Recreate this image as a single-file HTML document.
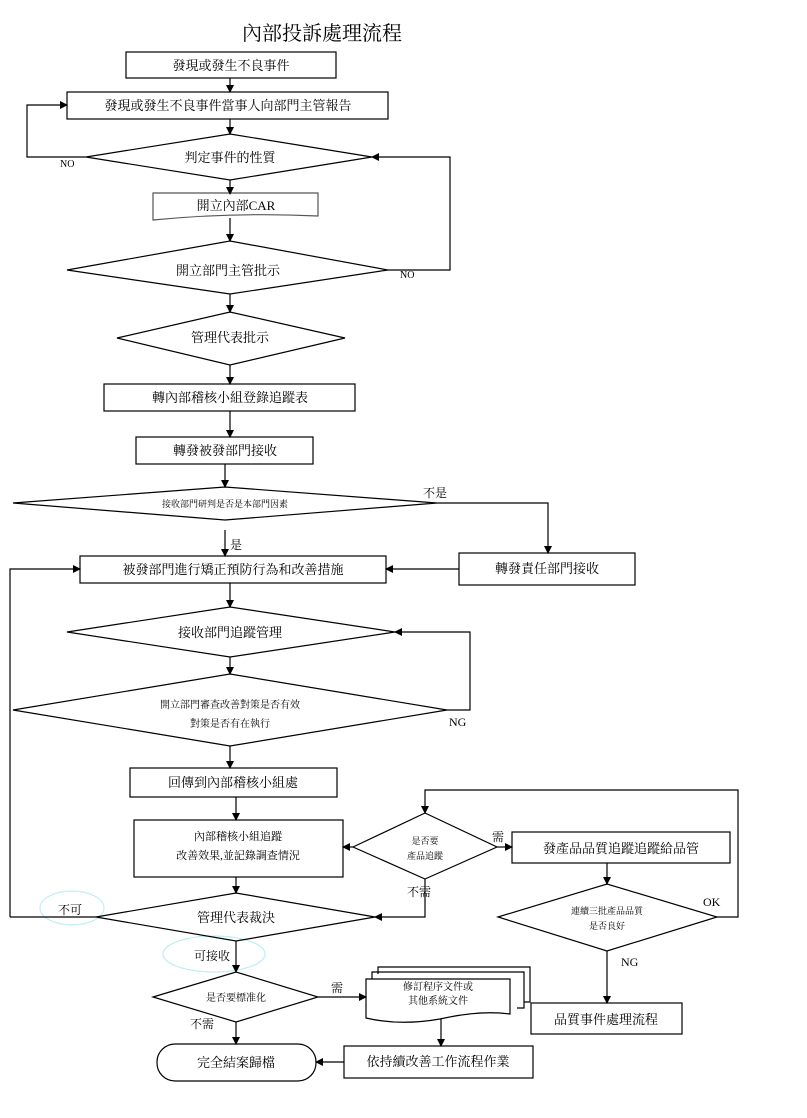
<!DOCTYPE html>
<html><head><meta charset="utf-8"><style>
body{margin:0;background:#fff}
svg text{font-family:"Liberation Serif","Noto Serif CJK SC","Noto Sans CJK TC",serif;fill:#000}
</style></head><body>
<svg width="807" height="1113" viewBox="0 0 807 1113" xmlns="http://www.w3.org/2000/svg">
<defs><marker id="a" markerWidth="8" markerHeight="8" refX="7" refY="4" orient="auto" markerUnits="userSpaceOnUse"><path d="M0,0L8,4L0,8z" fill="#000"/></marker></defs>
<g fill="none" stroke="#000" stroke-width="1.2">
<ellipse cx="72" cy="908" rx="32" ry="17" stroke="#bfeef5"/>
<ellipse cx="214" cy="954" rx="51" ry="18" stroke="#bfeef5"/>
<rect x="126" y="52" width="210" height="26"/>
<rect x="67" y="92" width="321" height="27"/>
<polygon points="86,157 230,134 372,157 230,180"/>
<path d="M153,193H318V216Q235,212 153,220Z" stroke="#555"/>
<polygon points="67,270 230,241 388,270 230,294"/>
<polygon points="117,338 230,312 345,338 230,365"/>
<rect x="104" y="384" width="251" height="27"/>
<rect x="136" y="437" width="177" height="27"/>
<polygon points="13,503 225,487 437,503 225,520"/>
<rect x="459" y="553" width="176" height="32"/>
<rect x="80" y="556" width="306" height="27"/>
<polygon points="67,632 230,607 395,632 230,657"/>
<polygon points="13,710 230,674 447,710 230,746"/>
<rect x="130" y="768" width="207" height="29"/>
<rect x="134" y="820" width="209" height="57"/>
<polygon points="353,847 425,813 497,847 425,879"/>
<rect x="512" y="832" width="218" height="31"/>
<polygon points="498,917 607,884 717,917 607,951"/>
<rect x="531" y="1003" width="151" height="31"/>
<polygon points="96,917 236,893 375,917 236,941"/>
<polygon points="153,997 236,972 318,997 236,1022"/>
<path d="M378,974V967H530V1002H524"/>
<path d="M372,979V972H524V1008H517"/>
<path d="M366,979H510V1014Q480,1010 440,1019Q400,1026 366,1018Z" fill="#fff"/>
<rect x="157" y="1044" width="159" height="37" rx="18"/>
<rect x="344" y="1046" width="189" height="32"/>
<g marker-end="url(#a)">
<path d="M230,78V92"/>
<path d="M230,119V134"/>
<path d="M86,157H27V105H67"/>
<path d="M230,180V194"/>
<path d="M230,218V241"/>
<path d="M388,270H450V157H372"/>
<path d="M230,294V312"/>
<path d="M230,365V384"/>
<path d="M230,411V437"/>
<path d="M225,464V487"/>
<path d="M437,503H548V553"/>
<path d="M225,530V556"/>
<path d="M459,569H386"/>
<path d="M10,917V569H80"/>
<path d="M230,583V607"/>
<path d="M230,657V674"/>
<path d="M447,710H470V632H395"/>
<path d="M230,746V768"/>
<path d="M236,797V820"/>
<path d="M353,847H343"/>
<path d="M497,847H512"/>
<path d="M607,863V884"/>
<path d="M717,917H738V790H425V813"/>
<path d="M607,951V1003"/>
<path d="M425,879V917H375"/>
<path d="M236,877V893"/>
<path d="M236,941V972"/>
<path d="M318,997H366"/>
<path d="M236,1022V1044"/>
<path d="M441,1019V1046"/>
<path d="M344,1062H316"/>
</g>
<path d="M96,917H10"/>
</g>
<g font-size="13" text-anchor="middle">
<text x="322" y="40" font-size="20">內部投訴處理流程</text>
<text x="231" y="70">發現或發生不良事件</text>
<text x="228" y="110">發現或發生不良事件當事人向部門主管報告</text>
<text x="230" y="162">判定事件的性質</text>
<text x="236" y="210">開立內部CAR</text>
<text x="228" y="275">開立部門主管批示</text>
<text x="230" y="342">管理代表批示</text>
<text x="230" y="402">轉內部稽核小組登錄追蹤表</text>
<text x="225" y="455">轉發被發部門接收</text>
<text x="225" y="507" font-size="9">接收部門研判是否是本部門因素</text>
<text x="547" y="573">轉發責任部門接收</text>
<text x="233" y="574">被發部門進行矯正預防行為和改善措施</text>
<text x="230" y="637">接收部門追蹤管理</text>
<text x="230" y="708" font-size="10">開立部門審查改善對策是否有效</text>
<text x="230" y="727" font-size="10">對策是否有在執行</text>
<text x="233" y="787">回傳到內部稽核小組處</text>
<text x="238" y="840" font-size="11">內部稽核小組追蹤</text>
<text x="238" y="859" font-size="11">改善效果,並記錄調查情況</text>
<text x="425" y="844" font-size="9">是否要</text>
<text x="425" y="859" font-size="9">產品追蹤</text>
<text x="621" y="853">發產品品質追蹤追蹤給品管</text>
<text x="607" y="914" font-size="9">連續三批產品品質</text>
<text x="607" y="929" font-size="9">是否良好</text>
<text x="606" y="1024">品質事件處理流程</text>
<text x="236" y="922">管理代表裁決</text>
<text x="236" y="1001" font-size="10">是否要標准化</text>
<text x="438" y="990" font-size="10">修訂程序文件或</text>
<text x="438" y="1004" font-size="10">其他系統文件</text>
<text x="236" y="1067">完全結案歸檔</text>
<text x="438" y="1066">依持續改善工作流程作業</text>
</g>
<g font-size="12">
<text x="60" y="167" font-size="10">NO</text>
<text x="400" y="278" font-size="10">NO</text>
<text x="423" y="497">不是</text>
<text x="230" y="549">是</text>
<text x="449" y="726">NG</text>
<text x="492" y="841">需</text>
<text x="407" y="896">不需</text>
<text x="703" y="906">OK</text>
<text x="621" y="966">NG</text>
<text x="58" y="914">不可</text>
<text x="194" y="960">可接收</text>
<text x="331" y="992">需</text>
<text x="190" y="1028">不需</text>
</g>
</svg>
</body></html>
